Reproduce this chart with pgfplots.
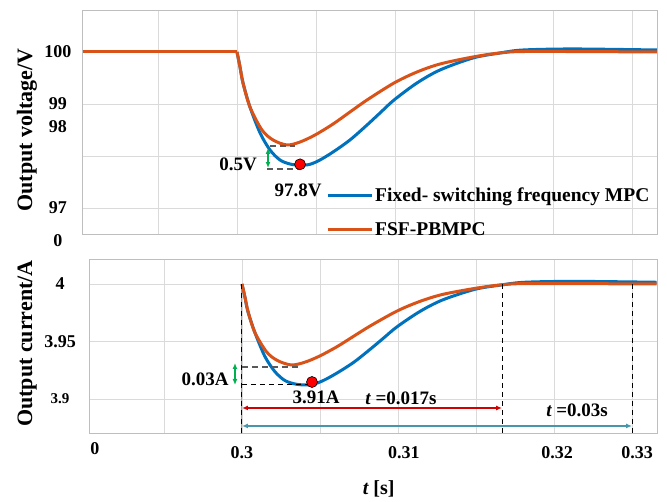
\documentclass[border=0pt]{standalone}
\usepackage{fontspec}
\setmainfont{Liberation Serif}
\usepackage{pgfplots}
\pgfplotsset{compat=1.18}
\usetikzlibrary{arrows.meta}
\definecolor{mBlue}{RGB}{0,114,189}
\definecolor{mOrange}{RGB}{217,83,25}
\definecolor{aGreen}{RGB}{0,176,80}
\definecolor{aRed}{RGB}{210,0,0}
\definecolor{aTeal}{RGB}{70,150,172}
\definecolor{gridGray}{RGB}{218,218,218}
\definecolor{frameGray}{RGB}{190,190,190}
\newcommand{\fs}[1]{\fontsize{#1}{#1}\selectfont\bfseries}
\tikzset{
  ann/.style={font=\fs{19}, inner sep=0pt},
  dd/.style={black, dash pattern=on 5pt off 4pt, line width=1pt},
  dg/.style={black!65, dash pattern=on 6pt off 4pt, line width=1.2pt},
  arr/.style={line width=1.3pt, {Latex[length=6pt,width=5pt]}-{Latex[length=6pt,width=5pt]}},
}
\pgfplotsset{
  panel/.style={
    scale only axis, anchor=south west,
    axis line style={frameGray, line width=1pt},
    grid=major, major grid style={gridGray, line width=0.9pt},
    major tick length=0pt,
    tick label style={font=\fs{18}},
    /pgf/number format/assume math mode=true,
    xtick={0.295,0.3,0.305,0.31,0.315,0.32,0.325}, xticklabels={},
    ylabel style={font=\fs{22}, anchor=center},
  },
  vb/.style={mBlue, line width=3pt, smooth, tension=0.5},
  vo/.style={mOrange, line width=3pt, smooth, tension=0.5},
  dot/.style={only marks, mark=*, mark size=5.5pt, mark options={fill=red, draw=black, line width=0.6pt}},
}
\begin{document}
\begin{tikzpicture}
\useasboundingbox (0,0) rectangle (667pt,502pt);
% output voltage
\begin{axis}[panel, at={(83pt,267pt)}, width=574pt, height=224pt,
  xmin=0.290253, xmax=0.326582, ymin=96.481, ymax=100.788,
  ytick={97,98,99,100}, yticklabels={97,,99,100},
  extra y ticks={98.56,96.49},
  extra y tick labels={98,\raisebox{-6pt}[\height][\depth]{0}},
  extra y tick style={grid=none},
  yticklabel style={anchor=center, xshift=-25pt},
  ylabel={Output voltage/V},
  ylabel style={at={(axis description cs:-0.0976,0.469)}},
  legend style={at={(axis description cs:0.4233,0.222)}, anchor=north west,
    draw=none, fill=none, inner sep=0pt, font=\fs{19.5}, row sep=16pt,
    /tikz/every even column/.style={column sep=3pt}},
  legend cell align=left,
  legend image code/.code={\draw[#1, sharp plot] (0pt,0pt) -- (44pt,0pt);},
]
\addplot[vb, sharp plot, forget plot] coordinates {(0.290253,100) (0.3,100)};
\addplot[vb] coordinates {(0.3,100) (0.30019,99.712) (0.30038,99.404) (0.30082,98.942)
  (0.30146,98.442) (0.30209,98.115) (0.30272,97.923) (0.30335,97.846) (0.30399,97.821)
  (0.30462,97.84) (0.30525,97.923) (0.30608,98.077) (0.30715,98.308) (0.30823,98.596)
  (0.30905,98.827) (0.30994,99.077) (0.31139,99.404) (0.31285,99.654) (0.31494,99.885)
  (0.31665,99.981) (0.31810,100.038) (0.32127,100.058) (0.32658,100.038)};
\addlegendentry{Fixed- switching frequency MPC}
\addplot[vo, sharp plot, forget plot] coordinates {(0.290253,100) (0.3,100)};
\addplot[vo] coordinates {(0.3,100) (0.30019,99.712) (0.30038,99.404) (0.30082,98.942)
  (0.30158,98.5) (0.30228,98.308) (0.30316,98.212) (0.30399,98.269) (0.30494,98.404)
  (0.30608,98.615) (0.30715,98.846) (0.30823,99.077) (0.30994,99.404) (0.31139,99.615)
  (0.31285,99.769) (0.31494,99.904) (0.31665,99.981) (0.31854,100.01) (0.32658,100)};
\addlegendentry{FSF-PBMPC}
\draw[dg] (axis cs:0.302089,98.192) -- (axis cs:0.303671,98.192);
\draw[dg] (axis cs:0.301899,97.75) -- (axis cs:0.303987,97.75);
\draw[arr, aGreen] (axis cs:0.301962,98.154) -- (axis cs:0.301962,97.769);
\node[ann] at (axis cs:0.300063,97.846) {0.5V};
\node[ann] at (axis cs:0.303861,97.346) {97.8V};
\addplot[dot, forget plot] coordinates {(0.30399,97.84)};
\end{axis}
% output current
\begin{axis}[panel, at={(89pt,68pt)}, width=568pt, height=174pt,
  xmin=0.290193, xmax=0.326602, ymin=3.86956, ymax=4.02087,
  ytick={3.9,3.95,4}, yticklabels={{\fs{15}3.9},3.95,4},
  yticklabel style={anchor=center, xshift=-29pt},
  extra x ticks={0.290577,0.3,0.310384,0.320192,0.32532},
  extra x tick labels={\raisebox{4pt}[\height][\depth]{0},0.3,0.31,0.32,0.33},
  extra x tick style={grid=none},
  xticklabel style={anchor=center, yshift=-19pt},
  xlabel={{\itshape t} [s]},
  xlabel style={font=\fs{20}, at={(axis description cs:0.51,0)}, anchor=center, yshift=-55pt},
  ylabel={Output current/A},
  ylabel style={at={(axis description cs:-0.109,0.52)}},
]
\addplot[mOrange!70, line width=1pt] coordinates {(0.3,3.86) (0.3,4.0)};
\addplot[vb] coordinates {(0.3,4.0) (0.30019,3.9884) (0.30038,3.9760) (0.30082,3.958)
  (0.30146,3.9372) (0.30209,3.9241) (0.30272,3.9163) (0.30335,3.9132) (0.30399,3.9122)
  (0.30462,3.9130) (0.30525,3.9163) (0.30608,3.9225) (0.30715,3.9318) (0.30823,3.9434)
  (0.30905,3.9527) (0.30994,3.9628) (0.31139,3.9760) (0.31285,3.9861) (0.31494,3.9954)
  (0.31665,3.9992) (0.31810,4.0015) (0.32127,4.0023) (0.32658,4.0015)};
\addplot[vo] coordinates {(0.3,4.0) (0.30019,3.9887) (0.30038,3.9765) (0.30082,3.958)
  (0.30158,3.9409) (0.30228,3.9334) (0.30316,3.9296) (0.30399,3.9318) (0.30494,3.9371)
  (0.30608,3.9454) (0.30715,3.9545) (0.30823,3.9636) (0.30994,3.9765) (0.31139,3.9848)
  (0.31285,3.9909) (0.31494,3.9962) (0.31665,3.9993) (0.31854,4.0004) (0.32658,4.0)};
\draw[dd] (axis cs:0.3,4) -- (axis cs:0.3,3.86956);
\draw[dd] (axis cs:0.31667,4) -- (axis cs:0.31667,3.86956);
\draw[dd] (axis cs:0.325,4) -- (axis cs:0.325,3.86956);
\draw[dg] (axis cs:0.3,3.92782) -- (axis cs:0.303718,3.92782);
\draw[dd] (axis cs:0.3,3.91217) -- (axis cs:0.304167,3.91217);
\draw[arr, aGreen] (axis cs:0.299551,3.9313) -- (axis cs:0.299551,3.91217);
\draw[arr, aRed] (axis cs:0.3,3.89217) -- (axis cs:0.31667,3.89217);
\draw[arr, aTeal] (axis cs:0.3,3.87652) -- (axis cs:0.325,3.87652);
\node[ann] at (axis cs:0.297628,3.91739) {0.03A};
\node[ann] at (axis cs:0.304743,3.90173) {3.91A};
\node[ann] at (axis cs:0.310192,3.90087) {{\itshape t} =0.017s};
\node[ann] at (axis cs:0.321474,3.89043) {{\itshape t} =0.03s};
\addplot[dot] coordinates {(0.304487,3.91478)};
\end{axis}
\end{tikzpicture}
\end{document}
